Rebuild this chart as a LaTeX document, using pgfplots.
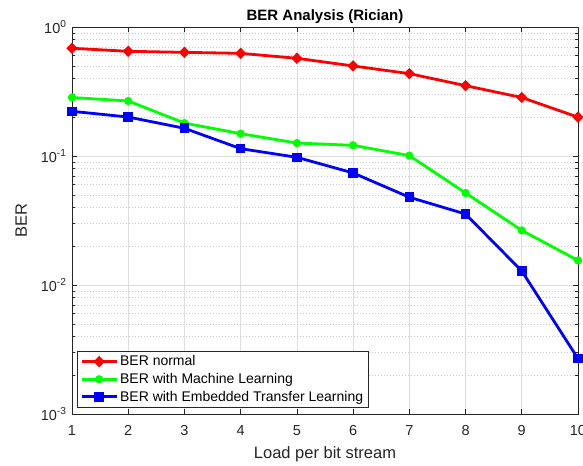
\documentclass[border=0pt]{standalone}
\usepackage{fontspec}
\setmainfont{Liberation Sans}
\usepackage{pgfplots}
\pgfplotsset{compat=1.18}
\definecolor{axgray}{RGB}{38,38,38}
\definecolor{gridgray}{RGB}{222,222,222}
\definecolor{mred}{RGB}{255,0,0}
\definecolor{mgreen}{RGB}{0,255,0}
\definecolor{mblue}{RGB}{0,0,255}

\begin{document}
\begin{tikzpicture}
\begin{axis}[
    at={(0,0)}, anchor=south west,
    scale only axis,
    width=506bp, height=387bp,
    xmin=1, xmax=10,
    ymode=log, ymin=1e-3, ymax=1,
    xtick={1,2,3,4,5,6,7,8,9,10},
    xticklabels={1,2,3,4,5,6,7,8,9,10},
    ytick={1e-3,1e-2,1e-1,1},
    yticklabels={10\textsuperscript{-3},10\textsuperscript{-2},10\textsuperscript{-1},10\textsuperscript{0}},
    ticklabel style={font=\fontsize{14.5bp}{17bp}\selectfont, color=axgray},
    xticklabel style={yshift=-8bp},
    yticklabel style={xshift=-2bp},
    grid=both,
    major grid style={gridgray, line width=0.6bp},
    minor grid style={gridgray!90!black, dash pattern=on 0.6bp off 2.4bp, line width=0.6bp},
    tick align=inside,
    major tick length=5bp, minor tick length=3bp,
    every tick/.style={axgray, line width=0.6bp},
    axis line style={axgray, line width=0.7bp},
    title={BER Analysis (Rician)},
    title style={font=\bfseries\fontsize{15bp}{18bp}\selectfont, at={(0.5,1)}, anchor=base, yshift=1bp},
    xlabel={Load per bit stream},
    xlabel style={font=\fontsize{16.5bp}{19bp}\selectfont, color=axgray, at={(0.5,0)}, anchor=base, yshift=-44bp},
    ylabel={BER},
    ylabel style={font=\fontsize{16.5bp}{19bp}\selectfont, color=axgray, at={(0,0.5)}, anchor=base, yshift=45bp},
    legend style={at={(0.0099,0.0155)}, anchor=south west, draw=axgray, line width=0.6bp,
        font=\fontsize{14bp}{16bp}\selectfont, row sep=2bp, inner xsep=3bp, inner ysep=3bp},
    legend cell align=left,
    legend image code/.code={\draw[mark repeat=2, mark phase=2] plot coordinates {(0bp,0bp) (17.5bp,0bp) (35bp,0bp)};},
]
\addplot[mred, line width=2.8bp, mark=diamond*, mark size=5bp, mark options={solid, xscale=1.3, line width=1bp}] coordinates {
    (1,0.684) (2,0.648) (3,0.636) (4,0.625) (5,0.572)
    (6,0.499) (7,0.435) (8,0.351) (9,0.284) (10,0.200)
};
\addplot[mgreen, line width=2.8bp, mark=*, mark size=3.6bp, mark options={solid, line width=1bp}] coordinates {
    (1,0.284) (2,0.267) (3,0.180) (4,0.149) (5,0.126)
    (6,0.121) (7,0.1007) (8,0.0517) (9,0.0265) (10,0.0155)
};
\addplot[mblue, line width=2.8bp, mark=square*, mark size=4.3bp, mark options={solid, line width=1bp}] coordinates {
    (1,0.222) (2,0.2005) (3,0.164) (4,0.114) (5,0.0977)
    (6,0.0739) (7,0.0479) (8,0.0355) (9,0.01284) (10,0.00269)
};
\legend{BER normal, BER with Machine Learning, BER with Embedded Transfer Learning}
\end{axis}
\pgfresetboundingbox
\path[use as bounding box] (-72bp,-52bp) rectangle (511bp,414bp);
\end{tikzpicture}
\end{document}
